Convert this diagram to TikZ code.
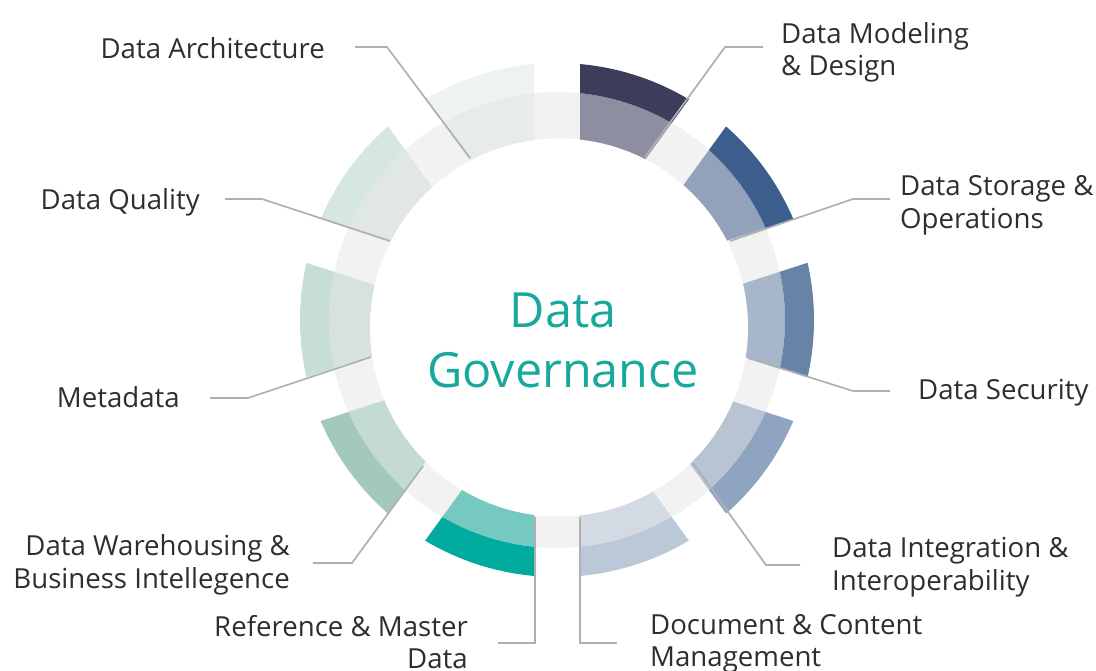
\documentclass[tikz,border=0pt]{standalone}
\usepackage{fontspec}
\setmainfont{Open Sans}
\definecolor{ringgray}{HTML}{F2F2F2}
\definecolor{txt}{HTML}{2E2E2E}
\definecolor{govteal}{HTML}{17A99B}
\definecolor{leader}{HTML}{B0B0B0}
\definecolor{modI}{HTML}{8D8EA2}\definecolor{modO}{HTML}{3B3D5B}
\definecolor{stoI}{HTML}{91A2BA}\definecolor{stoO}{HTML}{3D5E8C}
\definecolor{secI}{HTML}{A7B6C9}\definecolor{secO}{HTML}{6783A8}
\definecolor{intI}{HTML}{B8C4D3}\definecolor{intO}{HTML}{8EA4C0}
\definecolor{docI}{HTML}{D3DAE3}\definecolor{docO}{HTML}{BAC8D8}
\definecolor{refI}{HTML}{76C9C1}\definecolor{refO}{HTML}{00AB9D}
\definecolor{whsI}{HTML}{C4DAD4}\definecolor{whsO}{HTML}{A3C8BD}
\definecolor{metI}{HTML}{D7E2DF}\definecolor{metO}{HTML}{C7DDD7}
\definecolor{quaI}{HTML}{E0E7E5}\definecolor{quaO}{HTML}{D6E7E2}
\definecolor{arcI}{HTML}{E7ECEB}\definecolor{arcO}{HTML}{ECF3F1}
\begin{document}
\begin{tikzpicture}[x=1pt,y=1pt,
  lbl/.style={font=\fontsize{27.6}{32.5}\selectfont, text=txt, inner sep=0pt},
  leaderline/.style={draw=leader, line width=1.7pt, line join=miter}]
\useasboundingbox (0,0) rectangle (1096,670);

% ring geometry
\def\dgap{23}
\def\rin{150}
\def\rmid{228}
\def\rout{257}

\begin{scope}[shift={(557,350)}]
  % base grey ring
  \fill[ringgray] (0,0) circle[radius=\rmid];
  % ten segments, each between two gap rays 36 degrees apart
  \foreach \a/\ci/\co in {90/modI/modO, 54/stoI/stoO, 18/secI/secO,
      -18/intI/intO, -54/docI/docO, -90/refI/refO, -126/whsI/whsO,
      -162/metI/metO, 162/quaI/quaO, 126/arcI/arcO}{
    \pgfmathsetmacro{\b}{\a-36}
    \pgfmathsetmacro{\sIn}{asin(\dgap/\rin)}
    \pgfmathsetmacro{\sMid}{asin(\dgap/\rmid)}
    \pgfmathsetmacro{\sOut}{asin(\dgap/\rout)}
    \fill[\ci] ({\a-\sMid}:\rmid) arc[start angle={\a-\sMid}, end angle={\b+\sMid}, radius=\rmid]
      -- ({\b+\sIn}:\rin) arc[start angle={\b+\sIn}, end angle={\a-\sIn}, radius=\rin] -- cycle;
    \fill[\co] ({\a-\sOut}:\rout) arc[start angle={\a-\sOut}, end angle={\b+\sOut}, radius=\rout]
      -- ({\b+\sMid}:\rmid) arc[start angle={\b+\sMid}, end angle={\a-\sMid}, radius=\rmid] -- cycle;
  }
  % white core
  \fill[white] (2,-7.5) circle[radius=189];
\end{scope}

% centre title
\node[font=\fontsize{48.5}{60}\selectfont, text=govteal, align=center, inner sep=0pt]
  (gov) at (563,330) {Data\\Governance};

% labels
\node[lbl, anchor=east] (arch) at (325,622) {Data Architecture};
\node[lbl, anchor=west, align=left] (model) at (781,617.5) {Data Modeling\\\& Design};
\node[lbl, anchor=west, align=left] (storage) at (900,464.5) {Data Storage \&\\Operations};
\node[lbl, anchor=east] (quality) at (200,468) {Data Quality};
\node[lbl, anchor=west] (security) at (918,277) {Data Security};
\node[lbl, anchor=east] (meta) at (180,273) {Metadata};
\node[lbl, anchor=east, align=right] (wareh) at (290,105) {Data Warehousing \&\\Business Intellegence};
\node[lbl, anchor=west, align=left] (integ) at (832,103) {Data Integration \&\\Interoperability};
\node[lbl, anchor=east, align=right] (ref) at (468,28) {Reference \& Master\\Data};
\node[lbl, anchor=west, align=left] (doc) at (650,26) {Document \& Content\\Management};

% leader line points
\coordinate (archA) at (470,512); \coordinate (archB) at (387,623); \coordinate (archC) at (355,623);
\coordinate (modA) at (645,513);  \coordinate (modB) at (725,623);  \coordinate (modC) at (763,623);
\coordinate (stoA) at (730,429);  \coordinate (stoB) at (853,471);  \coordinate (stoC) at (890,471);
\coordinate (secA) at (748,312);  \coordinate (secB) at (853,279);  \coordinate (secC) at (890,279);
\coordinate (intA) at (693,207);  \coordinate (intB) at (766,105);  \coordinate (intC) at (800,105);
\coordinate (docA) at (580,153);  \coordinate (docB) at (580,27);   \coordinate (docC) at (617,27);
\coordinate (refA) at (535,153);  \coordinate (refB) at (535,27);   \coordinate (refC) at (498,27);
\coordinate (whsA) at (423,204);  \coordinate (whsB) at (352,107);  \coordinate (whsC) at (313,107);
\coordinate (metA) at (371,313);  \coordinate (metB) at (248,272);  \coordinate (metC) at (210,272);
\coordinate (quaA) at (390,429);  \coordinate (quaB) at (262,471);  \coordinate (quaC) at (225,471);

\foreach \p in {arch,mod,sto,sec,int,doc,ref,whs,met,qua}{
  \draw[leaderline] (\p A) -- (\p B) -- (\p C);
}
\end{tikzpicture}
\end{document}
